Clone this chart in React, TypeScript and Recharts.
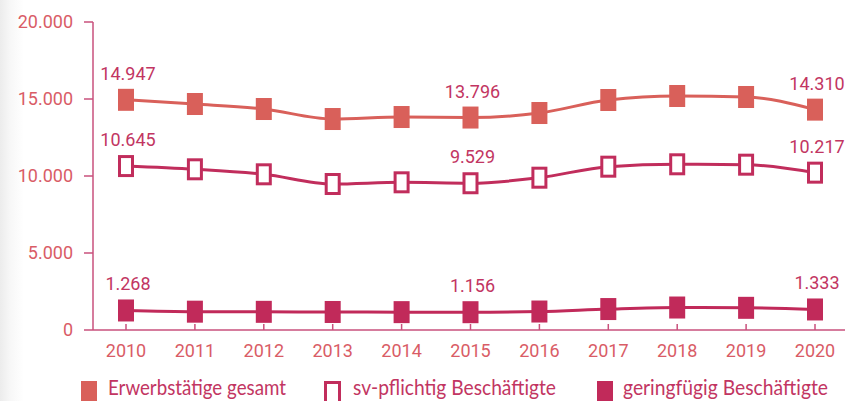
import React from 'react';
import { LineChart, Line, XAxis, YAxis } from 'recharts';

const years = ['2010', '2011', '2012', '2013', '2014', '2015', '2016', '2017', '2018', '2019', '2020'];
const erwerbstaetige = [14947, 14675, 14350, 13700, 13830, 13796, 14090, 14935, 15195, 15130, 14310];
const svPflichtig = [10645, 10435, 10110, 9480, 9590, 9529, 9890, 10605, 10760, 10735, 10217];
const geringfuegig = [1268, 1190, 1180, 1170, 1160, 1156, 1200, 1360, 1460, 1440, 1333];
const yTicks = [0, 5000, 10000, 15000, 20000];
const labelledIndices = [0, 5, 10];
const seriesNames = ['Erwerbstätige gesamt', 'sv-pflichtig Beschäftigte', 'geringfügig Beschäftigte'];

const data = years.map((y, i) => ({
  year: y,
  erw: erwerbstaetige[i],
  sv: svPflichtig[i],
  ger: geringfuegig[i],
}));

const C_ERW = '#d9605a';
const C_SV = '#c12d5c';
const C_GER = '#c12a5a';
const C_AXIS = '#c9507c';
const C_TICK = '#d95c66';
const C_LABEL = '#c23562';

const fmt = (v: number) => {
  const s = Math.round(v).toString();
  return s.replace(/\B(?=(\d{3})+(?!\d))/g, '.');
};

const FilledDot = (color: string) => (props: any) => {
  const { cx, cy, index } = props;
  if (cx == null || cy == null) return <g key={index} />;
  return <rect key={index} x={cx - 8} y={cy - 11} width={16} height={22} fill={color} />;
};

const HollowDot = (color: string) => (props: any) => {
  const { cx, cy, index } = props;
  if (cx == null || cy == null) return <g key={index} />;
  return (
    <rect key={index} x={cx - 6.5} y={cy - 9.5} width={13} height={19} fill="#ffffff" stroke={color} strokeWidth={3} />
  );
};

const ValueLabel = (props: any) => {
  const { x, y, index, value } = props;
  if (!labelledIndices.includes(index)) return null;
  return (
    <text x={x + 2} y={y - 20} textAnchor="middle" fill={C_LABEL} fontFamily="Roboto" fontSize={18}>
      {fmt(value)}
    </text>
  );
};

const XTick = (props: any) => {
  const { x, y, payload } = props;
  return (
    <g>
      <line x1={x} x2={x} y1={y - 6} y2={y} stroke={C_AXIS} strokeWidth={1.5} />
      <text x={x} y={y + 27} textAnchor="middle" fill={C_TICK} fontFamily="Roboto" fontSize={18}>
        {payload.value}
      </text>
    </g>
  );
};

const legendItems = [
  { name: seriesNames[0], color: C_ERW, hollow: false, boxX: 81, textX: 108, textW: 178 },
  { name: seriesNames[1], color: C_SV, hollow: true, boxX: 324, textX: 353, textW: 203 },
  { name: seriesNames[2], color: C_GER, hollow: false, boxX: 597, textX: 623, textW: 205 },
];

export default function App() {
  return (
    <div
      style={{
        position: 'fixed',
        left: 0,
        top: 0,
        width: 845,
        height: 401,
        overflow: 'hidden',
        background: 'linear-gradient(to right, #ececec 0px, #f7f7f7 10px, #ffffff 24px)',
      }}
    >
      <div style={{ position: 'absolute', left: 0, top: 0 }}>
        <LineChart width={860} height={401} data={data} margin={{ top: 22, right: 11, left: 0, bottom: 41 }}>
          <XAxis
            dataKey="year"
            height={30}
            padding={{ left: 33, right: 34 }}
            axisLine={{ stroke: C_AXIS, strokeWidth: 1.5 }}
            tickLine={false}
            tickSize={0}
            tickMargin={0}
            tick={<XTick />}
            interval={0}
          />
          <YAxis
            width={93}
            domain={[0, 20000]}
            ticks={yTicks}
            tickFormatter={fmt}
            axisLine={{ stroke: C_AXIS, strokeWidth: 1.5 }}
            tickLine={{ stroke: C_AXIS, strokeWidth: 1.5 }}
            tickSize={9}
            tickMargin={11}
            tick={{ fill: C_TICK, fontFamily: 'Roboto', fontSize: 18 }}
          />
          <Line
            type="monotone"
            dataKey="erw"
            stroke={C_ERW}
            strokeWidth={3}
            dot={FilledDot(C_ERW)}
            activeDot={false}
            label={<ValueLabel />}
            isAnimationActive={false}
          />
          <Line
            type="monotone"
            dataKey="sv"
            stroke={C_SV}
            strokeWidth={3}
            dot={HollowDot(C_SV)}
            activeDot={false}
            label={<ValueLabel />}
            isAnimationActive={false}
          />
          <Line
            type="monotone"
            dataKey="ger"
            stroke={C_GER}
            strokeWidth={3}
            dot={FilledDot(C_GER)}
            activeDot={false}
            label={<ValueLabel />}
            isAnimationActive={false}
          />
        </LineChart>
      </div>
      <svg width={845} height={401} style={{ position: 'absolute', left: 0, top: 0 }}>
        {legendItems.map((it) =>
          it.hollow ? (
            <g key={it.name}>
              <rect x={it.boxX + 1.5} y={382.5} width={14} height={22} fill="#ffffff" stroke={it.color} strokeWidth={3} />
              <text x={it.textX} y={395} fill={C_LABEL} fontFamily="Lato" fontSize={21} textLength={it.textW} lengthAdjust="spacingAndGlyphs">
                {it.name}
              </text>
            </g>
          ) : (
            <g key={it.name}>
              <rect x={it.boxX} y={381} width={16} height={24} fill={it.color} />
              <text x={it.textX} y={395} fill={C_LABEL} fontFamily="Lato" fontSize={21} textLength={it.textW} lengthAdjust="spacingAndGlyphs">
                {it.name}
              </text>
            </g>
          )
        )}
      </svg>
    </div>
  );
}
